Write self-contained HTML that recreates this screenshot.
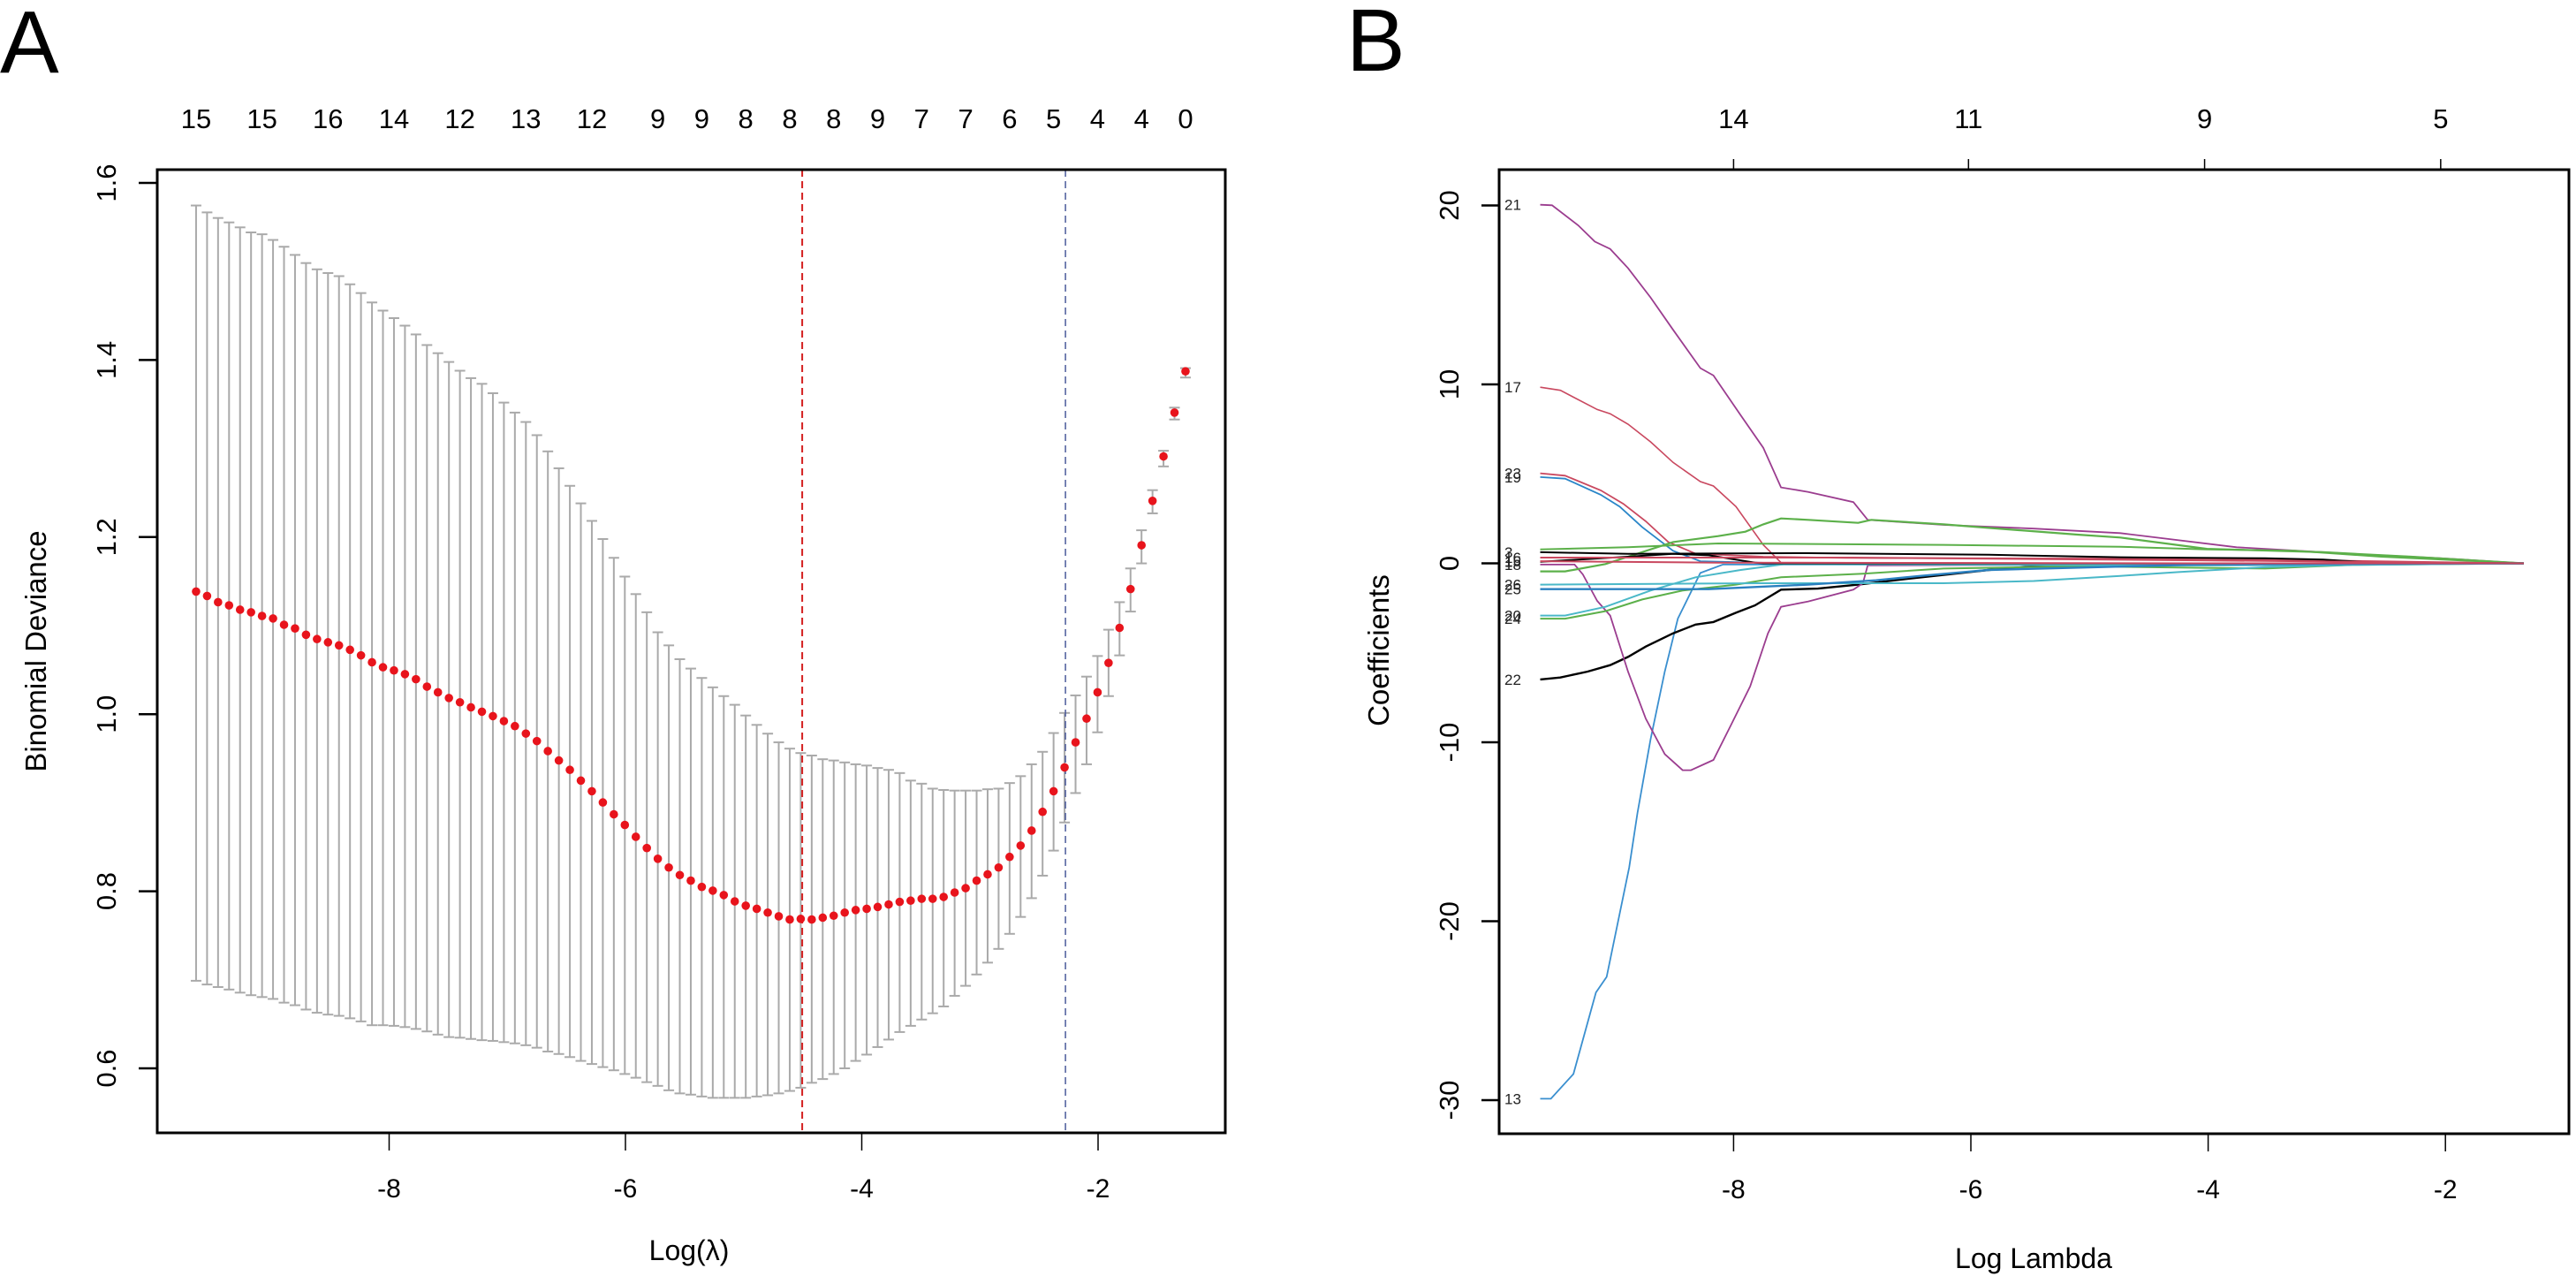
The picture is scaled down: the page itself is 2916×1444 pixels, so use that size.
<!DOCTYPE html>
<html><head><meta charset="utf-8"><style>
html,body{margin:0;padding:0;background:#fff;}
svg{display:block;font-family:"Liberation Sans",Arial,sans-serif;}
</style></head><body>
<svg id="fig" width="2916" height="1444" viewBox="0 0 2916 1444" xmlns="http://www.w3.org/2000/svg">
<rect x="0" y="0" width="2916" height="1444" fill="#fff"/>
<text x="0" y="82" font-size="100">A</text>
<text x="1524" y="80" font-size="100">B</text>
<g id="panelA"></g>
<g id="panelB"></g>
</svg>
<script>
// ---------- Panel A data ----------
const lamStartA = -9.634, lamEndA = -1.26;
const meanDev = [1.1385,1.1335,1.1265,1.1229,1.1180,1.1151,1.1109,1.1081,1.1010,1.0968,1.0897,1.0848,1.0812,1.0777,1.0727,1.0664,1.0586,1.0530,1.0494,1.0452,1.0395,1.0311,1.0247,1.0183,1.0134,1.0077,1.0028,0.9978,0.9922,0.9865,0.9781,0.9696,0.9583,0.9477,0.9371,0.9250,0.9130,0.9003,0.8869,0.8749,0.8615,0.8488,0.8367,0.8268,0.8183,0.8120,
0.8049,0.8007,0.7957,0.7886,0.7837,0.7802,0.7759,0.7717,0.7681,0.7688,0.7681,0.7702,0.7724,0.7759,0.7788,0.7802,0.7823,0.7851,0.7880,0.7894,0.7915,0.7915,0.7936,0.7986,0.8035,0.8120,0.8191,0.8268,0.8388,0.8516,0.8685,0.8897,0.9130,0.9399,0.9682,0.9950,1.0247,1.0579,1.0975,1.1413,1.1908,1.2409,1.2911,1.3406,1.3872];
const upperDev = [1.5745,1.5667,1.5604,1.5554,1.5498,1.5441,1.5420,1.5356,1.5279,1.5187,1.5095,1.5024,1.4982,1.4947,1.4855,1.4756,1.4650,1.4558,1.4473,1.4388,1.4289,1.4169,1.4077,1.3978,1.3879,1.3795,1.3731,1.3625,1.3519,1.3406,1.3300,1.3151,1.2968,1.2777,1.2579,1.2381,1.2183,1.1978,1.1766,1.1554,1.1356,1.1151,1.0925,1.0777,1.0621,1.0515,
1.0409,1.0303,1.0204,1.0106,0.9985,0.9879,0.9780,0.9682,0.9611,0.9561,0.9533,0.9491,0.9477,0.9455,0.9434,0.9420,0.9392,0.9371,0.9335,0.9250,0.9215,0.9159,0.9144,0.9137,0.9137,0.9137,0.9152,0.9159,0.9222,0.9300,0.9434,0.9575,0.9787,1.0014,1.0212,1.0424,1.0657,1.0954,1.1265,1.1646,1.2077,1.2530,1.2975,1.3462,1.3908];
const lowerDev = [0.6989,0.6947,0.6918,0.6890,0.6855,0.6826,0.6805,0.6784,0.6742,0.6713,0.6664,0.6628,0.6607,0.6593,0.6565,0.6530,0.6487,0.6487,0.6480,0.6466,0.6445,0.6417,0.6381,0.6353,0.6346,0.6332,0.6318,0.6310,0.6296,0.6282,0.6261,0.6233,0.6190,0.6162,0.6127,0.6084,0.6049,0.6014,0.5978,0.5936,0.5894,0.5844,0.5802,0.5752,0.5717,0.5703,
0.5682,0.5667,0.5667,0.5667,0.5667,0.5682,0.5696,0.5717,0.5745,0.5781,0.5837,0.5879,0.5936,0.6000,0.6084,0.6155,0.6240,0.6325,0.6410,0.6480,0.6551,0.6622,0.6699,0.6819,0.6932,0.7060,0.7194,0.7349,0.7519,0.7710,0.7922,0.8176,0.8459,0.8777,0.9109,0.9434,0.9795,1.0204,1.0664,1.1159,1.1703,1.2268,1.2798,1.3328,1.3802];
const nzeroLabels = ["15","15","16","14","12","13","12","9","9","8","8","8","9","7","7","6","5","4","4","0"];
const nzeroIdx = [0,6,12,18,24,30,36,42,46,50,54,58,62,66,70,74,78,82,86,90];
const yTicksA = [0.6,0.8,1.0,1.2,1.4,1.6];
const xTicksA = [-8,-6,-4,-2];
const lambdaMin = -4.504, lambda1se = -2.276;

// ---------- Panel B data ----------
const lam21 = [-9.63,-9.53,-9.31,-9.17,-9.04,-8.89,-8.70,-8.51,-8.28,-8.17,-7.94,-7.75,-7.60,-7.37,-6.99,-6.87,-6.23,-5.47,-4.74,-3.76,-2.78,-2.05,-1.34];
const coef21 = [20.04,20.01,18.89,17.98,17.57,16.50,14.86,13.05,10.91,10.50,8.27,6.46,4.24,3.99,3.42,2.43,2.15,1.94,1.69,0.90,0.53,0.29,0];
const lam17 = [-9.63,-9.46,-9.15,-9.04,-8.89,-8.70,-8.51,-8.28,-8.17,-7.98,-7.75,-7.60,-4.0,-1.34];
const coef17 = [9.84,9.67,8.60,8.36,7.78,6.79,5.64,4.57,4.32,3.17,1.03,0.04,0.0,0];
const lam23 = [-9.63,-9.42,-9.12,-8.93,-8.74,-8.55,-8.32,-7.75,-7.06,-4.0,-1.34];
const coef23 = [5.03,4.90,4.08,3.33,2.35,1.19,0.54,0.37,0.30,0.25,0];
const lam19 = [-9.63,-9.42,-9.12,-8.96,-8.77,-8.51,-8.28,-7.56,-1.34];
const coef19 = [4.82,4.73,3.83,3.17,2.02,0.70,0.12,0.0,0];
const lam13 = [-9.63,-9.54,-9.35,-9.16,-9.07,-8.88,-8.81,-8.70,-8.58,-8.47,-8.28,-8.09,-4.07,-1.34];
const coef13 = [-29.92,-29.92,-28.54,-23.98,-23.11,-17.0,-13.95,-9.84,-6.05,-3.09,-0.54,-0.07,-0.07,0];
const lam22 = [-9.63,-9.46,-9.23,-9.04,-8.89,-8.74,-8.51,-8.32,-8.17,-7.98,-7.82,-7.60,-7.29,-6.95,-6.46,-5.85,-5.47,-4.07,-1.34];
const coef22 = [-6.49,-6.38,-6.05,-5.69,-5.23,-4.65,-3.91,-3.42,-3.28,-2.76,-2.35,-1.47,-1.41,-1.19,-0.81,-0.37,-0.17,-0.07,0];
const lam18 = [-9.63,-9.34,-9.27,-9.15,-9.04,-8.89,-8.74,-8.58,-8.43,-8.36,-8.17,-8.02,-7.86,-7.71,-7.60,-7.37,-6.99,-6.91,-6.87,-1.34];
const coef18 = [-0.07,-0.07,-0.62,-2.10,-2.92,-6.05,-8.68,-10.66,-11.56,-11.56,-10.99,-9.01,-6.87,-3.91,-2.43,-2.13,-1.47,-1.11,-0.12,0];
const lamG1 = [-9.63,-9.42,-9.08,-8.89,-8.51,-8.13,-7.90,-7.75,-7.60,-7.37,-6.95,-6.84,-6.23,-5.85,-5.09,-4.74,-4.01,-3.03,-2.29,-1.34];
const coefG1 = [-0.45,-0.45,-0.04,0.37,1.19,1.52,1.77,2.18,2.51,2.43,2.26,2.43,2.18,1.98,1.60,1.44,0.81,0.62,0.37,0];
const lamG2 = [-9.63,-8.89,-8.13,-6.23,-5.09,-4.74,-4.01,-3.27,-2.54,-1.34];
const coefG2 = [0.78,0.90,1.11,1.03,0.95,0.93,0.78,0.70,0.37,0];
const lam24 = [-9.63,-9.42,-9.08,-8.77,-8.43,-7.98,-7.60,-6.91,-6.23,-5.09,-3.52,-2.78,-1.34];
const coef24 = [-3.09,-3.09,-2.67,-2.02,-1.52,-1.19,-0.78,-0.58,-0.29,-0.17,-0.29,-0.09,0];
const lam20 = [-9.63,-9.42,-9.08,-8.70,-8.32,-7.94,-7.56,-4.07,-1.34];
const coef20 = [-2.92,-2.92,-2.43,-1.52,-0.78,-0.37,-0.04,-0.12,0];
const lam26 = [-9.63,-8.51,-7.75,-6.23,-5.47,-4.74,-4.25,-3.52,-2.78,-1.34];
const coef26 = [-1.19,-1.14,-1.11,-1.11,-0.99,-0.70,-0.49,-0.21,-0.09,0];
const lam25 = [-9.63,-8.21,-7.37,-6.80,-6.42,-5.85,-4.07,-1.34];
const coef25 = [-1.44,-1.44,-1.19,-0.95,-0.70,-0.37,-0.07,0];
const lam3 = [-9.63,-8.89,-7.37,-5.85,-4.74,-3.52,-3.03,-2.61,-1.34];
const coef3 = [0.62,0.53,0.57,0.48,0.34,0.28,0.21,0.04,0];
const lam1 = [-9.63,-8.89,-8.51,-8.21,-7.82,-7.75,-1.34];
const coef1 = [0.09,0.37,0.53,0.45,0.04,0.0,0];
const lam16 = [-9.63,-6.99,-4.07,-1.34];
const coef16 = [0.32,0.32,0.17,0];
const lam15 = [-9.63,-8.13,-4.07,-1.34];
const coef15 = [0.12,0.04,0.0,0];
const yTicksB = [-30,-20,-10,0,10,20];
const xTicksB = [-8,-6,-4,-2];
const topLabelsB = ["14","11","9","5"];
const topLamB = [-8.0,-6.02,-4.03,-2.04];

const NS = "http://www.w3.org/2000/svg";
function mk(parent, tag, attrs, text){
  const e = document.createElementNS(NS, tag);
  for (const k in attrs) e.setAttribute(k, attrs[k]);
  if (text !== undefined) e.textContent = text;
  parent.appendChild(e);
  return e;
}
// scales
const xA = v => 708 + (v + 6) * 133.75;
const yA = v => 207 + (1.6 - v) * 1002;
const xB = v => 2231 + (v + 6) * 134.3;
const yB = v => 637.5 - v * 20.25;

// ===== Panel A =====
const gA = document.getElementById('panelA');
const nA = meanDev.length;
const lamA = meanDev.map((_, i) => lamStartA + (lamEndA - lamStartA) * i / (nA - 1));
for (let i = 0; i < nA; i++) {
  const x = xA(lamA[i]);
  const bar = mk(gA, 'line', {x1:x, x2:x, y1:yA(upperDev[i]), y2:yA(lowerDev[i]), stroke:'#aaaaaa', 'stroke-width':2});
  
  
  [upperDev[i], lowerDev[i]].forEach(v => {
    const c = mk(gA, 'line', {x1:x-6, x2:x+6, y1:yA(v), y2:yA(v), stroke:'#aaaaaa', 'stroke-width':2});
    
    
  });
}
const vMin = mk(gA, 'line', {x1:xA(lambdaMin), x2:xA(lambdaMin), y1:192, y2:1282, stroke:'#d42020', 'stroke-width':2, 'stroke-dasharray':'8,5'});


const v1se = mk(gA, 'line', {x1:xA(lambda1se), x2:xA(lambda1se), y1:192, y2:1282, stroke:'#4a5a9a', 'stroke-width':1.5, 'stroke-dasharray':'8,5'});


for (let i = 0; i < nA; i++) {
  const p = mk(gA, 'circle', {cx:xA(lamA[i]), cy:yA(meanDev[i]), r:4.8, fill:'#e8141c'});
  
  
}
const boxA = mk(gA, 'rect', {x:178, y:192, width:1209, height:1090, fill:'none', stroke:'#000', 'stroke-width':3});


yTicksA.forEach(v => {
  const t = mk(gA, 'line', {x1:157, x2:178, y1:yA(v), y2:yA(v), stroke:'#000', 'stroke-width':2.5});
  
  
  const l = mk(gA, 'text', {x:131, y:yA(v), 'font-size':31, 'text-anchor':'middle', transform:`rotate(-90 131 ${yA(v)})`}, v.toFixed(1));
  
  
});
xTicksA.forEach(v => {
  const t = mk(gA, 'line', {x1:xA(v), x2:xA(v), y1:1282, y2:1302, stroke:'#000', 'stroke-width':1.5});
  
  
  const l = mk(gA, 'text', {x:xA(v), y:1355, 'font-size':30, 'text-anchor':'middle'}, String(v));
  
  
});
nzeroIdx.forEach((idx, k) => {
  const l = mk(gA, 'text', {x:xA(lamA[idx]), y:145, 'font-size':31, 'text-anchor':'middle'}, nzeroLabels[k]);
  
  
});
const xtA = mk(gA, 'text', {x:780, y:1426, 'font-size':32, 'text-anchor':'middle'}, 'Log(λ)');


const ytA = mk(gA, 'text', {x:52, y:737, 'font-size':33, 'text-anchor':'middle', transform:'rotate(-90 52 737)'}, 'Binomial Deviance');



// ===== Panel B =====
const gB = document.getElementById('panelB');
const paths = [
  ['21', lam21, coef21, '#9b3d8f', 1.8],
  ['17', lam17, coef17, '#c9485f', 1.6],
  ['23', lam23, coef23, '#c9485f', 1.8],
  ['19', lam19, coef19, '#2a86c8', 1.8],
  ['13', lam13, coef13, '#3a8fcf', 1.8],
  ['22', lam22, coef22, '#000000', 2.4],
  ['18', lam18, coef18, '#9b3d8f', 1.8],
  ['2',  lamG1, coefG1, '#5cb04a', 2.2],
  ['8',  lamG2, coefG2, '#5cb04a', 2],
  ['24', lam24, coef24, '#5cb04a', 2],
  ['20', lam20, coef20, '#4ab8c8', 2],
  ['26', lam26, coef26, '#4ab8c8', 2],
  ['25', lam25, coef25, '#2a80c0', 2.4],
  ['3',  lam3,  coef3,  '#000000', 2],
  ['1',  lam1,  coef1,  '#000000', 2],
  ['16', lam16, coef16, '#c9485f', 2],
  ['15', lam15, coef15, '#c9485f', 2]
];
paths.forEach(([lab, lams, coefs, col, w]) => {
  const d = lams.map((l, i) => (i ? 'L' : 'M') + xB(l).toFixed(1) + ',' + yB(coefs[i]).toFixed(1)).join(' ');
  const p = mk(gB, 'path', {d:d, fill:'none', stroke:col, 'stroke-width':w});
  
  
});
const labelled = ['21','17','23','19','13','22','18','24','20','26','25','3','1','16','15'];
paths.forEach(([lab, lams, coefs]) => {
  if (labelled.indexOf(lab) < 0) return;
  const t = mk(gB, 'text', {x:1703, y:yB(coefs[0]) + 6, 'font-size':17, fill:'#222'}, lab);
  
  
});
const boxB = mk(gB, 'rect', {x:1697, y:192, width:1211, height:1091, fill:'none', stroke:'#000', 'stroke-width':3});


yTicksB.forEach(v => {
  const t = mk(gB, 'line', {x1:1677, x2:1697, y1:yB(v), y2:yB(v), stroke:'#000', 'stroke-width':2.5});
  
  
  const l = mk(gB, 'text', {x:1651, y:yB(v), 'font-size':31, 'text-anchor':'middle', transform:`rotate(-90 1651 ${yB(v)})`}, String(v));
  
  
});
xTicksB.forEach(v => {
  const t = mk(gB, 'line', {x1:xB(v), x2:xB(v), y1:1283, y2:1303, stroke:'#000', 'stroke-width':1.5});
  
  
  const l = mk(gB, 'text', {x:xB(v), y:1356, 'font-size':30, 'text-anchor':'middle'}, String(v));
  
  
});
topLamB.forEach((v, k) => {
  const t = mk(gB, 'line', {x1:xB(v), x2:xB(v), y1:180, y2:192, stroke:'#000', 'stroke-width':1.5});
  
  
  const l = mk(gB, 'text', {x:xB(v), y:145, 'font-size':31, 'text-anchor':'middle'}, topLabelsB[k]);
  
  
});
const xtB = mk(gB, 'text', {x:2302, y:1435, 'font-size':32, 'text-anchor':'middle'}, 'Log Lambda');


const ytB = mk(gB, 'text', {x:1572, y:736, 'font-size':33, 'text-anchor':'middle', transform:'rotate(-90 1572 736)'}, 'Coefficients');


</script>
</body></html>
